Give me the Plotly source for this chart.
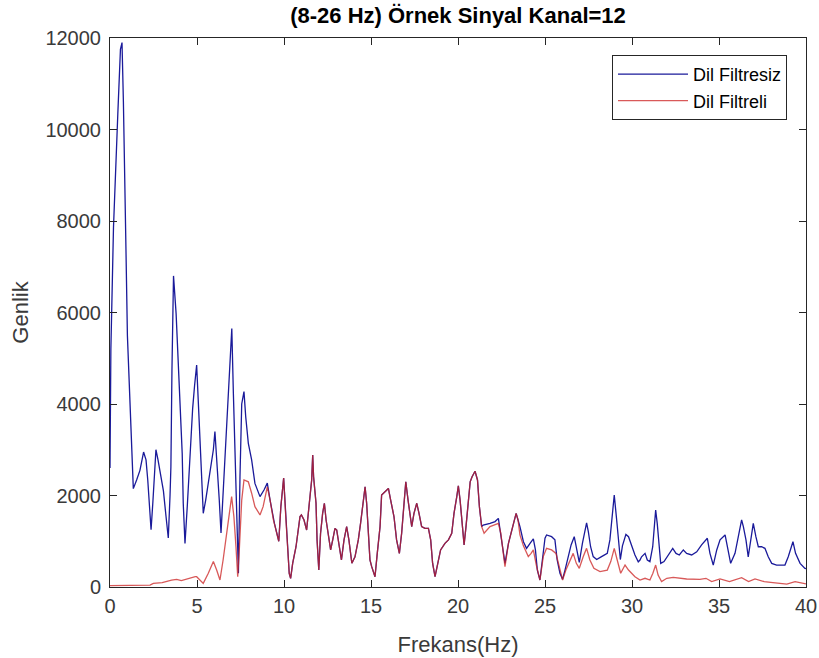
import plotly.graph_objects as go

# Spectrum of channel 12 before/after the 8-26 Hz band-pass filter.
# Low band (0-9.7 Hz): the two spectra differ.
raw_low_freq = [0.0, 0.05, 0.2, 0.35, 0.45, 0.6, 0.69, 0.77, 0.87, 0.93, 1.0, 1.1, 1.2, 1.34,
                1.53, 1.72, 1.93, 2.07, 2.17, 2.26, 2.36, 2.46, 2.55, 2.64, 2.76, 2.91, 3.07,
                3.22, 3.35, 3.45, 3.5, 3.56, 3.65, 3.8, 3.9, 4.06, 4.15, 4.21, 4.31, 4.44, 4.56,
                4.64, 4.75, 4.86, 4.98, 5.07, 5.2, 5.27, 5.36, 5.5, 5.7, 5.94, 6.03, 6.15, 6.28,
                6.38, 6.5, 6.67, 6.8, 6.93, 7.0, 7.09, 7.19, 7.28, 7.38, 7.47, 7.57, 7.7, 7.8,
                7.95, 8.14, 8.33, 8.62, 8.85, 9.04, 9.2, 9.45]
raw_low_amp = [2600, 5200, 7850, 9650, 10350, 11750, 11900, 10600, 8800, 7100, 5500, 4600, 3600, 2150,
               2340, 2550, 2950, 2780, 2340, 1830, 1250, 1830, 2410, 3000, 2780, 2480, 2100,
               1540, 1070, 2000, 2630, 4720, 6800, 5970, 5190, 3710, 2920, 1830, 950, 1760, 2630,
               3290, 3900, 4400, 4850, 4090, 3000, 2410, 1610, 1900, 2410, 3000, 3400, 2780, 1900,
               1180, 2050, 3140, 4235, 5000, 5650, 4235, 2780, 1680, 300, 2410, 4000, 4270, 3720,
               3140, 2780, 2265, 1975, 2120, 2270, 1900, 1390]

filt_low_freq = [0.0, 1.0, 2.3, 2.49, 3.0, 3.54, 3.83, 4.1, 4.5, 4.9, 4.98, 5.15, 5.36, 5.65,
                 5.94, 6.13, 6.32, 6.5, 6.7, 6.86, 6.99, 7.12, 7.24, 7.34, 7.44, 7.57, 7.7, 7.95,
                 8.14, 8.33, 8.62, 8.8, 9.04, 9.2, 9.39, 9.58]
filt_low_amp = [30, 30, 40, 80, 95, 150, 168, 140, 190, 225, 225, 153, 80, 300,
                555, 370, 153, 590, 1100, 1610, 1975, 1540, 880, 225, 880, 1900, 2340, 2300,
                2050, 1756, 1575, 1756, 2190, 1900, 1465, 1175]

# Pass band (9.7-21.4 Hz): both spectra coincide.
band_freq = [9.7, 9.82, 9.98, 10.1, 10.19, 10.3, 10.38, 10.5, 10.69, 10.92, 11.0, 11.15, 11.3,
             11.45, 11.59, 11.65, 11.7, 11.84, 11.9, 12.0, 12.1, 12.22, 12.32, 12.42, 12.55,
             12.68, 12.8, 12.93, 13.03, 13.16, 13.3, 13.45, 13.6, 13.73, 13.9, 14.08, 14.27,
             14.4, 14.56, 14.66, 14.75, 14.85, 14.94, 15.04, 15.23, 15.36, 15.52, 15.61, 15.8,
             16.0, 16.13, 16.32, 16.47, 16.63, 16.76, 16.9, 17.0, 17.13, 17.34, 17.47, 17.63,
             17.76, 17.91, 18.1, 18.3, 18.43, 18.54, 18.68, 18.87, 19.0, 19.25, 19.45, 19.64,
             19.77, 19.93, 20.02, 20.12, 20.27, 20.35, 20.46, 20.6, 20.7, 20.81, 20.98, 21.12,
             21.23, 21.36]
band_amp = [1000, 1760, 2380, 1540, 880, 300, 190, 520, 880, 1540, 1575, 1465, 1245,
            1756, 2340, 2885, 2410, 1830, 1030, 370, 1170, 1610, 1830, 1465, 1100,
            810, 1030, 1280, 1245, 880, 590, 1030, 1320, 1030, 520, 660, 1030,
            1390, 1900, 2190, 1830, 1170, 590, 445, 225, 735, 1320, 2010, 2085,
            2155, 1900, 1540, 1030, 735, 1170, 1756, 2300, 1900, 1320, 1610, 1830,
            1610, 1320, 1280, 1280, 1030, 520, 225, 590, 810, 955, 1030, 1175,
            1610, 1975, 2210, 1900, 1175, 920, 1320, 1900, 2300, 2410, 2530, 2340,
            1756, 1320]

# High band (21.4-40 Hz): the filtered spectrum falls away.
raw_high_freq = [21.45, 21.84, 22.13, 22.32, 22.46, 22.61, 22.7, 22.9, 23.15, 23.34, 23.45,
                 23.56, 23.76, 23.94, 24.14, 24.33, 24.45, 24.56, 24.71, 24.85, 25.0, 25.09,
                 25.38, 25.57, 25.7, 25.86, 26.01, 26.15, 26.34, 26.5, 26.68, 26.82, 26.97,
                 27.15, 27.3, 27.39, 27.49, 27.62, 27.77, 27.97, 28.25, 28.58, 28.73, 28.85,
                 28.98, 29.1, 29.21, 29.33, 29.45, 29.65, 29.8, 29.98, 30.17, 30.36, 30.46,
                 30.55, 30.75, 30.88, 31.03, 31.19, 31.28, 31.36, 31.45, 31.55, 31.65, 31.84,
                 32.09, 32.34, 32.53, 32.72, 32.95, 33.14, 33.43, 33.72, 34.0, 34.33, 34.48,
                 34.67, 34.87, 35.06, 35.35, 35.53, 35.67, 35.92, 36.17, 36.3, 36.4, 36.55,
                 36.68, 36.82, 36.97, 37.12, 37.26, 37.45, 37.64, 37.83, 38.03, 38.31, 38.79,
                 38.98, 39.18, 39.25, 39.4, 39.66, 39.94, 40.0]
raw_high_amp = [1355, 1390, 1430, 1500, 1175, 735, 517, 955, 1320, 1610, 1465,
                1320, 990, 845, 955, 1050, 810, 370, 153, 665, 1065, 1137,
                1100, 1030, 590, 300, 170, 370, 665, 920, 1100, 810, 540,
                955, 1245, 1400, 1210, 880, 665, 600, 665, 735, 1030, 1540,
                2010, 1540, 1100, 600, 900, 1150, 1100, 880, 700, 550, 590,
                660, 735, 590, 555, 880, 1390, 1680, 1390, 880, 517, 555,
                700, 845, 735, 700, 810, 735, 700, 770, 920, 1065, 735,
                480, 810, 1030, 1137, 810, 517, 735, 1175, 1465, 1320, 1030,
                660, 1030, 1390, 1100, 880, 880, 845, 660, 517, 480, 480,
                660, 900, 990, 735, 517, 408, 400]

filt_high_freq = [21.5, 21.84, 22.32, 22.46, 22.61, 22.7, 22.9, 23.15, 23.34, 23.45, 23.56,
                  23.76, 24.04, 24.2, 24.33, 24.5, 24.71, 24.9, 25.09, 25.38, 25.63, 25.82,
                  26.01, 26.2, 26.43, 26.62, 26.8, 26.97, 27.2, 27.39, 27.58, 27.81, 28.16,
                  28.58, 28.78, 28.98, 29.15, 29.35, 29.6, 29.8, 30.17, 30.46, 30.75, 31.03,
                  31.2, 31.36, 31.5, 31.7, 32.0, 32.37, 33.14, 33.9, 34.25, 34.58, 35.06,
                  35.6, 36.3, 36.7, 37.07, 37.6, 38.1, 38.9, 39.37, 39.94, 40.0]
filt_high_amp = [1175, 1320, 1390, 1175, 735, 445, 955, 1320, 1610, 1465, 1137,
                 900, 665, 735, 810, 480, 153, 665, 845, 810, 735, 445,
                 153, 370, 590, 735, 517, 408, 665, 845, 590, 408, 335,
                 370, 555, 845, 590, 300, 480, 370, 225, 153, 190, 153,
                 300, 480, 260, 117, 190, 210, 175, 168, 190, 117, 175,
                 117, 205, 117, 175, 117, 95, 65, 117, 80, 70]

x_ticks = [0, 5, 10, 15, 20, 25, 30, 35, 40]
y_ticks = [0, 2000, 4000, 6000, 8000, 10000, 12000]

raw_freq = raw_low_freq + band_freq + raw_high_freq
raw_amp = raw_low_amp + band_amp + raw_high_amp
filt_freq = filt_low_freq + band_freq + filt_high_freq
filt_amp = filt_low_amp + band_amp + filt_high_amp

FONT = "Liberation Sans, Arial, sans-serif"
AXIS_COLOR = "#262626"
TICK_COLOR = "#3a3a3a"

fig = go.Figure()
fig.add_trace(go.Scatter(x=raw_freq, y=raw_amp, mode="lines", name="Dil Filtresiz",
                         line=dict(color="#1a1a9a", width=1.3)))
fig.add_trace(go.Scatter(x=filt_freq, y=filt_amp, mode="lines", name="Dil Filtreli",
                         line=dict(color="#cc2222", width=1.3), opacity=0.75))

axis_common = dict(showline=True, linecolor=AXIS_COLOR, linewidth=1, mirror="ticks",
                   ticks="inside", ticklen=7, tickcolor=AXIS_COLOR, showgrid=False,
                   zeroline=False, automargin=False,
                   tickfont=dict(family=FONT, size=20, color=TICK_COLOR))

fig.update_xaxes(range=[0, 40], tickvals=x_ticks, ticktext=[str(v) for v in x_ticks],
                 ticklabelstandoff=1,
                 title=dict(text="Frekans(Hz)", font=dict(family=FONT, size=22, color=TICK_COLOR),
                            standoff=20),
                 **axis_common)
fig.update_yaxes(range=[0, 12000], tickvals=y_ticks, ticktext=[str(v) for v in y_ticks],
                 ticklabelstandoff=4,
                 title=dict(text="Genlik", font=dict(family=FONT, size=22, color=TICK_COLOR),
                            standoff=10),
                 **axis_common)

fig.update_layout(
    width=819, height=658,
    margin=dict(l=110, r=13, t=38, b=71, pad=0),
    paper_bgcolor="white", plot_bgcolor="white",
    title=dict(text="<b>(8-26 Hz) Örnek Sinyal Kanal=12</b>",
               font=dict(family=FONT, size=22, color="black"),
               x=0.5, xref="paper", xanchor="center", y=0.989, yanchor="top"),
    legend=dict(x=0.9727, y=0.969, xanchor="right", yanchor="top",
                bgcolor="white", bordercolor=AXIS_COLOR, borderwidth=1,
                font=dict(family=FONT, size=18, color="black"),
                itemwidth=70, tracegroupgap=2),
    showlegend=True,
)

fig.write_html("out.html")
